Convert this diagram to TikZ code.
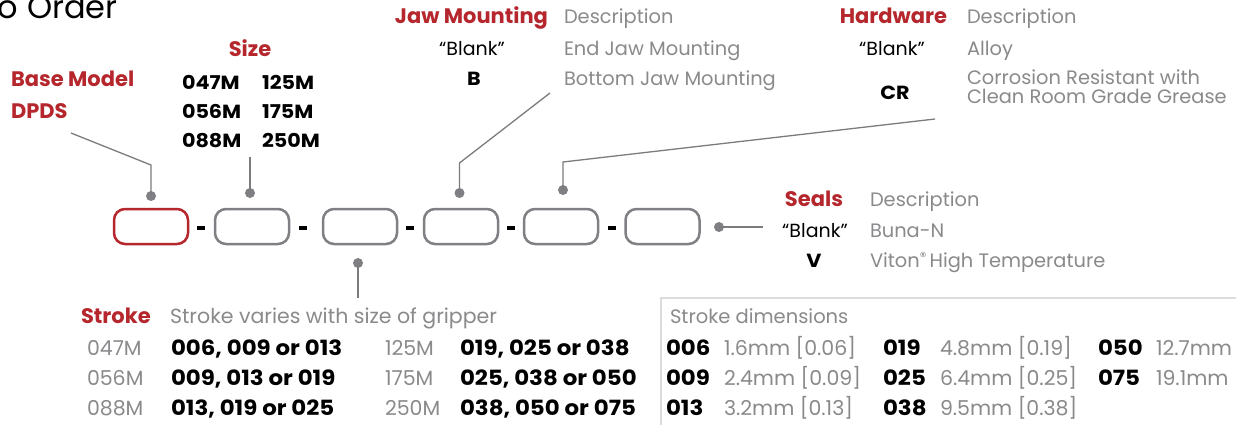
\documentclass[tikz,border=0pt]{standalone}
\usepackage{fontspec}
\setmainfont{Poppins}
\newfontfamily\codefont[FakeStretch=1.09]{Poppins}
\definecolor{pred}{HTML}{B5272D}
\definecolor{ptext}{HTML}{8A8A8D}
\definecolor{pbox}{HTML}{808084}
\definecolor{pline}{HTML}{7C7C7E}
\definecolor{pframe}{HTML}{DCDCDC}
\tikzset{
  lbl/.style={inner sep=0pt, outer sep=0pt},
  head/.style={lbl, text=pred, font=\fontsize{21}{24}\selectfont\bfseries},
  desc/.style={lbl, text=ptext, font=\fontsize{19.4}{22}\selectfont},
  code/.style={lbl, text=black, font=\fontsize{19}{22}\selectfont\codefont\bfseries},
  blank/.style={lbl, text=black, font=\fontsize{19}{22}\selectfont},
  scode/.style={lbl, text=black, font=\fontsize{21}{24}\selectfont\codefont\bfseries},
  sdesc/.style={lbl, text=ptext, font=\fontsize{20.5}{24}\selectfont},
  slot/.style={draw=pbox, line width=2.5pt, rounded corners=11pt, minimum width=74pt, minimum height=35pt, inner sep=0pt},
  pin/.style={circle, fill=pbox, minimum size=10pt, inner sep=0pt},
  hyph/.style={fill=black, minimum width=8pt, minimum height=4pt, inner sep=0pt},
  lead/.style={draw=pline, line width=1.3pt},
}
\begin{document}
\begin{tikzpicture}[x=1pt,y=-1pt]
\useasboundingbox (0,0) rectangle (1236,424);
\fill[white] (0,0) rectangle (1236,424);

% title
\node[lbl, anchor=base west, font=\fontsize{32}{36}\selectfont] (title) at (-2,18) {o Order};

% base model
\node[head, anchor=base west] (bm) at (11,86) {Base Model};
\node[head, anchor=base west] (dpds) at (11,118) {DPDS};

% size
\node[head, anchor=base] (size) at (250,56) {Size};
\node[code, anchor=base west] (s1) at (182,89) {047M};
\node[code, anchor=base west] (s2) at (262,89) {125M};
\node[code, anchor=base west] (s3) at (182,118) {056M};
\node[code, anchor=base west] (s4) at (262,118) {175M};
\node[code, anchor=base west] (s5) at (182,147) {088M};
\node[code, anchor=base west] (s6) at (262,147) {250M};

% jaw mounting
\node[head, anchor=base east] (jm) at (548,23) {Jaw Mounting};
\node[desc, anchor=base west] (jmd) at (564,23) {Description};
\node[blank, anchor=base] (jmb) at (472,55) {“Blank”};
\node[desc, anchor=base west] (jmbd) at (564,55) {End Jaw Mounting};
\node[code, anchor=base] (jmB) at (474,85) {B};
\node[desc, anchor=base west] (jmBd) at (564,85) {Bottom Jaw Mounting};

% hardware
\node[head, anchor=base east] (hw) at (947,23) {Hardware};
\node[desc, anchor=base west] (hwd) at (967,23) {Description};
\node[blank, anchor=base] (hwb) at (892,55) {“Blank”};
\node[desc, anchor=base west] (hwbd) at (967,55) {Alloy};
\node[code, anchor=base] (hwcr) at (895,99) {CR};
\node[desc, anchor=base west] (hwcr1) at (967,84) {Corrosion Resistant with};
\node[desc, anchor=base west] (hwcr2) at (967,103) {Clean Room Grade Grease};

% seals
\node[head, anchor=base east] (se) at (843,206) {Seals};
\node[desc, anchor=base west] (sed) at (870,206) {Description};
\node[blank, anchor=base] (seb) at (815,237) {“Blank”};
\node[desc, anchor=base west] (sebd) at (870,237) {Buna-N};
\node[code, anchor=base] (seV) at (814,267) {V};
\node[desc, anchor=base west] (seVd) at (870,267) {Viton\raisebox{5.5pt}{\fontsize{13}{13}\selectfont ®}\,High Temperature};

% slots
\node[slot, draw=pred] (b1) at (151,226.5) {};
\node[slot] (b2) at (252,226.5) {};
\node[slot] (b3) at (360,226.5) {};
\node[slot] (b4) at (461,226.5) {};
\node[slot] (b5) at (561,226.5) {};
\node[slot] (b6) at (662.5,226.5) {};
\node[hyph] (h1) at (201,228) {};
\node[hyph] (h2) at (303,228) {};
\node[hyph] (h3) at (410,228) {};
\node[hyph] (h4) at (511,228) {};
\node[hyph] (h5) at (612,228) {};

% pins and leaders
\node[pin] (p1) at (151,196) {};
\coordinate (k1) at (151,165);
\coordinate (e1) at (71,133);
\draw[lead] (p1.center) -- (k1) -- (e1);

\node[pin] (p2) at (250,193) {};
\coordinate (e2) at (250,157);
\draw[lead] (p2.center) -- (e2);

\node[pin] (p3) at (358,263) {};
\coordinate (e3) at (358,298);
\draw[lead] (p3.center) -- (e3);

\node[pin] (p4) at (459.5,193) {};
\coordinate (k4) at (459.5,163);
\coordinate (e4) at (550,93);
\draw[lead] (p4.center) -- (k4) -- (e4);

\node[pin] (p5) at (563,190) {};
\coordinate (k5) at (563,162);
\coordinate (e5) at (935,119);
\draw[lead] (p5.center) -- (k5) -- (e5);

\node[pin] (p6) at (719,227) {};
\coordinate (e6) at (763,227);
\draw[lead] (p6.center) -- (e6);

% stroke
\node[head, anchor=base west] (st) at (81,323) {Stroke};
\node[sdesc, anchor=base west] (std) at (170,323) {Stroke varies with size of gripper};
\foreach \y/\a/\b/\c/\d [count=\i] in {355/047M/{006, 009 or 013}/125M/{019, 025 or 038},
                             385/056M/{009, 013 or 019}/175M/{025, 038 or 050},
                             415/088M/{013, 019 or 025}/250M/{038, 050 or 075}}{
  \node[sdesc, anchor=base west] (sa\i) at (87,\y) {\a};
  \node[scode, anchor=base west] (sb\i) at (171,\y) {\b};
  \node[sdesc, anchor=base west] (sc\i) at (385,\y) {\c};
  \node[scode, anchor=base west] (sd\i) at (460,\y) {\d};
}

% stroke dimensions
\draw[pframe, line width=2.5pt] (1260,298) -- (661,298) -- (661,440);
\node[sdesc, anchor=base west, font=\fontsize{19.5}{22}\selectfont] (sdh) at (670,323) {Stroke dimensions};
\foreach \y/\a/\b/\c/\d/\e/\f [count=\i] in {355/006/{1.6mm [0.06]}/019/{4.8mm [0.19]}/050/12.7mm,
                                         385/009/{2.4mm [0.09]}/025/{6.4mm [0.25]}/075/19.1mm}{
  \node[scode, anchor=base west] (da\i) at (666,\y) {\a};
  \node[sdesc, anchor=base west] (db\i) at (724,\y) {\b};
  \node[scode, anchor=base west] (dc\i) at (883,\y) {\c};
  \node[sdesc, anchor=base west] (dd\i) at (940,\y) {\d};
  \node[scode, anchor=base west] (de\i) at (1098,\y) {\e};
  \node[sdesc, anchor=base west] (df\i) at (1156,\y) {\f};
}
\node[scode, anchor=base west] (da3) at (666,415) {013};
\node[sdesc, anchor=base west] (db3) at (724,415) {3.2mm [0.13]};
\node[scode, anchor=base west] (dc3) at (883,415) {038};
\node[sdesc, anchor=base west] (dd3) at (940,415) {9.5mm [0.38]};
\end{tikzpicture}
\end{document}
